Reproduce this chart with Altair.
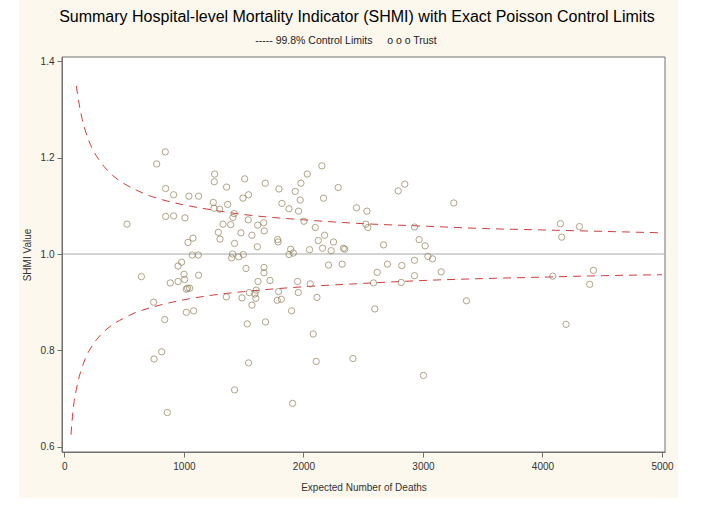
import altair as alt
import pandas as pd

# Expected deaths and SHMI value for each trust
expected_deaths = [
    844, 772, 847, 914, 1042, 1123, 1257, 1254, 1357, 1508,
    1681, 1795, 1246, 1252, 1299, 1366, 1494, 1541, 524, 847,
    914, 1009, 1421, 1410, 1327, 1391, 1538, 1617, 1667, 1672,
    1288, 1302, 1477, 1569, 1424, 1614, 1784, 1788, 1076, 1034,
    1070, 1120, 1407, 1497, 1458, 1399, 981, 951, 1519, 1670,
    1670, 644, 1001, 1123, 1006, 951, 886, 1620, 1720, 1031,
    1048, 1020, 1792, 1547, 1594, 1605, 1355, 1486, 1020, 1081,
    1602, 1569, 1781, 1815, 1530, 1683, 1901, 2082, 1541, 2107,
    2414, 1424, 1909, 747, 839, 814, 750, 861, 2154, 2032,
    1979, 1931, 2291, 1973, 2168, 1820, 1879, 1959, 2444, 2531,
    2004, 2099, 2522, 2539, 2793, 2177, 2124, 2252, 2160, 2232,
    2335, 2345, 2051, 1893, 1879, 1915, 2670, 2210, 2324, 2703,
    2617, 2586, 2823, 2818, 1951, 2057, 1957, 2113, 2848, 3258,
    2929, 2968, 3018, 3041, 3080, 2929, 3152, 2929, 4150, 4309,
    4161, 4086, 4426, 4395, 3364, 2597, 4197, 3004,
]
shmi_value = [
    1.212, 1.187, 1.136, 1.123, 1.120, 1.120, 1.166, 1.150, 1.139, 1.156,
    1.147, 1.135, 1.107, 1.095, 1.093, 1.103, 1.116, 1.123, 1.062, 1.078,
    1.079, 1.075, 1.084, 1.076, 1.062, 1.061, 1.071, 1.060, 1.065, 1.048,
    1.045, 1.031, 1.044, 1.039, 1.022, 1.015, 1.030, 1.025, 1.033, 1.024,
    0.998, 0.998, 1.000, 0.999, 0.994, 0.992, 0.983, 0.975, 0.970, 0.972,
    0.961, 0.953, 0.958, 0.956, 0.947, 0.943, 0.940, 0.943, 0.945, 0.929,
    0.929, 0.927, 0.922, 0.920, 0.917, 0.925, 0.911, 0.909, 0.879, 0.882,
    0.908, 0.894, 0.904, 0.906, 0.855, 0.859, 0.882, 0.834, 0.774, 0.777,
    0.783, 0.718, 0.690, 0.900, 0.864, 0.797, 0.782, 0.671, 1.183, 1.166,
    1.147, 1.130, 1.138, 1.112, 1.116, 1.105, 1.094, 1.089, 1.096, 1.089,
    1.068, 1.055, 1.062, 1.055, 1.131, 1.039, 1.028, 1.025, 1.012, 1.007,
    1.012, 1.010, 1.009, 1.010, 0.999, 1.002, 1.019, 0.977, 0.979, 0.979,
    0.962, 0.940, 0.976, 0.941, 0.943, 0.938, 0.920, 0.910, 1.145, 1.106,
    1.056, 1.030, 1.017, 0.995, 0.990, 0.987, 0.963, 0.955, 1.063, 1.057,
    1.035, 0.954, 0.966, 0.937, 0.903, 0.886, 0.854, 0.748,
]

# 99.8% control limits
upper_expected = [100, 125, 150, 175, 200, 250, 300, 400, 500, 600, 700, 800,
                  1000, 1250, 1500, 2000, 2500, 3000, 3500, 4000, 4500, 5000]
upper_limit = [1.349, 1.309, 1.279, 1.256, 1.238, 1.211, 1.192, 1.164, 1.146,
               1.133, 1.122, 1.114, 1.102, 1.091, 1.082, 1.071, 1.063, 1.058,
               1.053, 1.050, 1.047, 1.044]
lower_expected = [55, 75, 100, 125, 150, 175, 200, 250, 300, 400, 500, 600,
                  700, 800, 1000, 1250, 1500, 2000, 2500, 3000, 3500, 4000,
                  4500, 5000]
lower_limit = [0.625, 0.681, 0.719, 0.746, 0.766, 0.783, 0.796, 0.816, 0.831,
               0.853, 0.867, 0.879, 0.887, 0.894, 0.905, 0.915, 0.922, 0.932,
               0.939, 0.945, 0.949, 0.952, 0.955, 0.957]

reference_value = [1.0]
x_ticks = [0, 1000, 2000, 3000, 4000, 5000]
y_ticks = [0.6, 0.8, 1.0, 1.2, 1.4]

trusts = pd.DataFrame({"expected": expected_deaths, "value": shmi_value})
limits = pd.concat([
    pd.DataFrame({"expected": upper_expected, "value": upper_limit, "limit": "upper"}),
    pd.DataFrame({"expected": lower_expected, "value": lower_limit, "limit": "lower"}),
])
reference = pd.DataFrame({"value": reference_value})
one_row = pd.DataFrame({"k": [0]})

W, H = 603, 395
FONT = "Liberation Sans"
FRAME = "#707070"
CREAM = "#fcf8ee"

x_scale = alt.Scale(domain=[-20, 5025], nice=False, zero=False)
y_scale = alt.Scale(domain=[0.589, 1.409], nice=False, zero=False)

axis_style = dict(
    grid=False, domainColor=FRAME, tickColor=FRAME, tickSize=5,
    labelFont=FONT, labelFontSize=10, labelColor="#333333",
    titleFont=FONT, titleFontSize=10, titleFontWeight="normal",
    titleColor="#333333", zindex=1,
)
x_enc = alt.X("expected:Q", scale=x_scale,
              axis=alt.Axis(title="Expected Number of Deaths", values=x_ticks,
                            format="d", labelPadding=4, titlePadding=11,
                            **axis_style))
y_enc = alt.Y("value:Q", scale=y_scale,
              axis=alt.Axis(title="SHMI Value", values=y_ticks, format=".1f",
                            labelPadding=3, titlePadding=8, **axis_style))

# cream page panel and white plotting area
panel = alt.Chart(one_row).mark_rect(fill=CREAM).encode(
    x=alt.value(-43), x2=alt.value(W + 13),
    y=alt.value(-57), y2=alt.value(H + 46),
)
plot_area = alt.Chart(one_row).mark_rect(
    fill="white", stroke=FRAME, strokeWidth=1
).encode(x=alt.value(0), x2=alt.value(W), y=alt.value(0), y2=alt.value(H))

ref_line = alt.Chart(reference).mark_rule(color="#a8a8a8", strokeWidth=1).encode(
    y=y_enc
)

limit_lines = alt.Chart(limits).mark_line(
    color="#d23c3c", strokeWidth=1, strokeDash=[8, 6], interpolate="monotone"
).encode(x=x_enc, y=y_enc, detail="limit:N")

points = alt.Chart(trusts).mark_point(
    shape="circle", filled=False, size=40, strokeWidth=1, color="#8f7d55"
).encode(x=x_enc, y=y_enc)

title_text = alt.Chart(one_row).mark_text(
    text="Summary Hospital-level Mortality Indicator (SHMI) with Exact Poisson Control Limits",
    font=FONT, fontSize=16, color="#000000", align="center", baseline="middle",
).encode(x=alt.value(295), y=alt.value(-40))

legend_text = alt.Chart(one_row).mark_text(
    text="-----\u00a099.8% Control Limits\u00a0\u00a0\u00a0\u00a0\u00a0o o o Trust",
    font=FONT, fontSize=10.5, color="#222222", align="center", baseline="middle",
).encode(x=alt.value(284), y=alt.value(-16))

chart = alt.layer(
    panel, plot_area, ref_line, limit_lines, points, title_text, legend_text
).properties(
    width=W, height=H,
    autosize=alt.AutoSizeParams(type="none"),
    padding={"left": 62, "top": 57, "right": 41, "bottom": 63},
    background="white",
).configure_view(strokeWidth=0)

chart.save("out.html", embed_options={"renderer": "svg", "actions": False})
